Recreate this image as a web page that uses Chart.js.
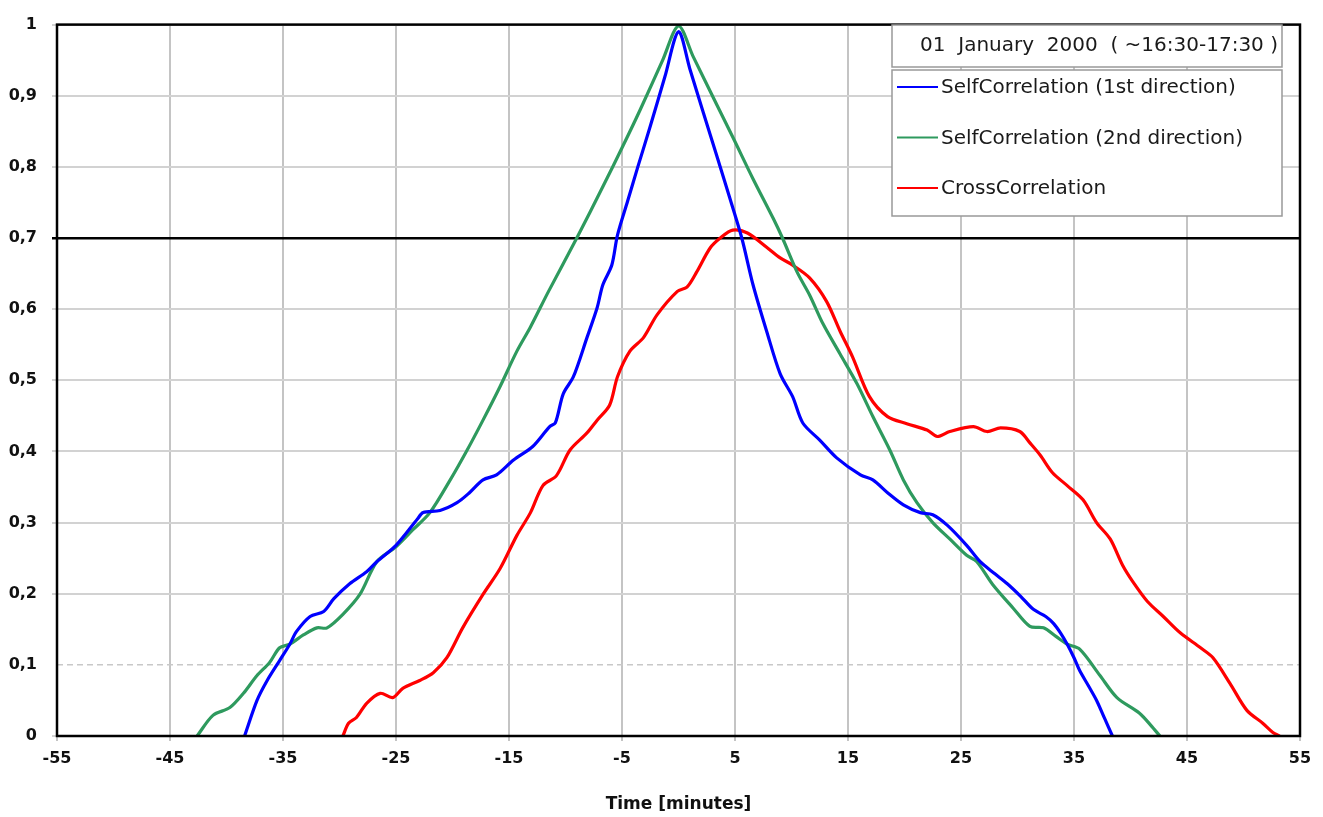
<!DOCTYPE html>
<html>
<head>
<meta charset="utf-8">
<script src="https://cdn.jsdelivr.net/npm/chart.js@4.4.0/dist/chart.umd.min.js"></script>
<style>
  body { margin: 0; background: #fff; }
  #wrap { width: 1323px; height: 817px; }
</style>
</head>
<body>
<div id="wrap"><canvas id="grafica_correlacion" width="1323" height="817"></canvas></div>
<script>
// ticks and reference lines
const xTicks = [-55, -45, -35, -25, -15, -5, 5, 15, 25, 35, 45, 55];
const yTicks = [0, 0.1, 0.2, 0.3, 0.4, 0.5, 0.6, 0.7, 0.8, 0.9, 1];
const thresholdLine = 0.7;
const dashedLine = 0.1;

const legendTitle = '01  January  2000  ( ~16:30-17:30 )';
const seriesLabels = ['SelfCorrelation (1st direction)', 'SelfCorrelation (2nd direction)', 'CrossCorrelation'];
const seriesColors = ['#0000ff', '#2e9a5e', '#ff0000'];

// SelfCorrelation (1st direction)
const self1X = [-38.4, -37.3, -36.4, -35.3, -34.4, -33.8, -32.6, -31.4, -30.5, -29.1, -27.6, -26.7, -25.0, -23.1, -22.6,
  -21.1, -19.6, -18.5, -17.3, -16.1, -14.6, -12.9, -11.4, -10.9, -10.2, -9.3, -8.1, -7.2, -6.7, -5.9, -5.4, -4.5, -3.6,
  -2.5, -1.2, 0, 1.0, 2.2, 3.4, 4.6, 5.6, 6.6, 7.8, 9.0, 10.1, 11.0, 12.5, 14.0, 16.1, 17.2, 18.5, 19.9, 21.4, 22.5, 23.8,
  25.5, 26.7, 28.0, 29.1, 30.3, 31.4, 32.5, 33.2, 33.8, 34.4, 35.0, 35.5, 36.3, 37.0, 37.7, 38.4];
const self1Y = [0, 0.05, 0.078, 0.106, 0.129, 0.147, 0.168, 0.175, 0.193, 0.214, 0.231, 0.245, 0.268, 0.305, 0.314,
  0.317, 0.328, 0.342, 0.36, 0.367, 0.388, 0.407, 0.435, 0.44, 0.481, 0.505, 0.56, 0.602, 0.634, 0.662, 0.704, 0.752, 0.80,
  0.857, 0.927, 0.99, 0.938, 0.876, 0.815, 0.753, 0.70, 0.634, 0.569, 0.509, 0.477, 0.44, 0.416, 0.391, 0.367, 0.36, 0.342, 0.325, 0.314, 0.311, 0.296,
  0.268, 0.245, 0.228, 0.214, 0.196, 0.178, 0.168, 0.158, 0.145, 0.129, 0.11, 0.092, 0.07, 0.05, 0.025, 0];

// SelfCorrelation (2nd direction)
const self2X = [-42.6, -41.2, -39.7, -38.5, -37.3, -36.2, -35.3, -34.4, -33.2, -32.0, -31.1, -29.7, -28.2, -26.7, -25.0,
  -23.5, -22.0, -20.2, -18.7, -17.3, -15.8, -14.3, -13.1, -11.5, -9.0, -6.7, -4.9, -3.4, -1.4, 0, 1.3, 3.4, 4.8, 6.6, 8.4,
  9.2, 10.5, 11.6, 12.8, 14.3, 15.8, 17.2, 18.7, 19.9, 21.1, 22.5, 24.0, 25.5, 26.4, 27.8, 29.6, 31.1, 32.3, 33.4, 34.4,
  35.5, 37.3, 38.8, 40.8, 41.8, 42.6];
const self2Y = [0, 0.029, 0.04, 0.06, 0.085, 0.103, 0.124, 0.129, 0.142, 0.152, 0.152, 0.171, 0.199, 0.245, 0.266,
  0.29, 0.314, 0.36, 0.402, 0.444, 0.491, 0.541, 0.575, 0.625, 0.70, 0.772, 0.83, 0.88, 0.95, 0.998, 0.955, 0.887, 0.842, 0.783, 0.727,
  0.70, 0.652, 0.62, 0.579, 0.537, 0.495, 0.449, 0.402, 0.36, 0.328, 0.30, 0.277, 0.254, 0.245, 0.213, 0.18, 0.154, 0.152, 0.14, 0.129,
  0.122, 0.085, 0.054, 0.032, 0.015, 0];

// CrossCorrelation
const crossX = [-29.7, -29.2, -28.5, -27.6, -26.4, -25.3, -24.4, -22.9, -21.7, -20.5, -19.1, -17.3, -15.8, -14.3, -13.1,
  -12.0, -10.8, -9.6, -8.1, -7.2, -6.1, -5.4, -4.3, -3.1, -1.9, -0.1, 0.75, 1.6, 2.8, 3.7, 4.8, 6.1, 7.8, 9.0, 10.1, 11.6,
  13.1, 14.3, 15.4, 16.9, 18.5, 20.2, 22.0, 22.9, 24.0, 26.1, 27.3, 28.5, 30.2, 31.1, 32.0, 33.1, 34.4, 35.8, 37.0, 38.2,
  39.3, 40.2, 41.5, 42.9, 44.4, 46.2, 47.3, 48.8, 50.3, 51.7, 52.6, 53.2];
const crossY = [0, 0.018, 0.026, 0.046, 0.06, 0.054, 0.067, 0.078, 0.089, 0.11, 0.152, 0.199, 0.235, 0.282, 0.314,
  0.352, 0.366, 0.402, 0.426, 0.444, 0.465, 0.505, 0.541, 0.56, 0.592, 0.625, 0.631, 0.652, 0.686, 0.70, 0.711, 0.707, 0.687, 0.672, 0.662, 0.644,
  0.611, 0.569, 0.533, 0.477, 0.449, 0.439, 0.43, 0.421, 0.428, 0.435, 0.428, 0.433, 0.428, 0.412, 0.395, 0.37, 0.352, 0.332, 0.30, 0.277,
  0.24, 0.217, 0.189, 0.168, 0.145, 0.124, 0.11, 0.074, 0.036, 0.018, 0.005, 0];

const toPoints = (xs, ys) => xs.map((x, i) => ({ x: x, y: ys[i] }));

const tickFont = { family: 'DejaVu Sans', size: 16, weight: 'bold' };

// outer frame and dashed 0,1 line
const framePlugin = {
  id: 'frame',
  beforeDatasetsDraw(chart) {
    const { ctx, chartArea: a, scales } = chart;
    const y = scales.y.getPixelForValue(dashedLine);
    ctx.save();
    ctx.strokeStyle = '#c8c8c8';
    ctx.lineWidth = 1.5;
    ctx.setLineDash([6, 4]);
    ctx.beginPath();
    ctx.moveTo(a.left, y);
    ctx.lineTo(a.right, y);
    ctx.stroke();
    ctx.restore();
  },
  afterDatasetsDraw(chart) {
    const { ctx, chartArea: a } = chart;
    ctx.save();
    ctx.strokeStyle = '#000';
    ctx.lineWidth = 2.5;
    ctx.strokeRect(a.left, a.top, a.right - a.left, a.bottom - a.top);
    ctx.restore();
  }
};

// legend boxes inside the plot, top right
const legendPlugin = {
  id: 'boxLegend',
  afterDraw(chart) {
    const ctx = chart.ctx;
    ctx.save();
    ctx.fillStyle = '#fff';
    ctx.strokeStyle = '#999';
    ctx.lineWidth = 1.5;
    ctx.fillRect(892, 25, 390, 42);
    ctx.strokeRect(892, 25, 390, 42);
    ctx.fillRect(892, 70, 390, 146);
    ctx.strokeRect(892, 70, 390, 146);

    ctx.fillStyle = '#1a1a1a';
    ctx.font = '20px "DejaVu Sans"';
    ctx.textBaseline = 'middle';
    ctx.textAlign = 'right';
    ctx.fillText(legendTitle, 1278, 46);

    ctx.textAlign = 'left';
    chart.data.datasets.forEach((ds, i) => {
      const y = 87 + i * 50.5;
      ctx.strokeStyle = ds.borderColor;
      ctx.lineWidth = 2;
      ctx.beginPath();
      ctx.moveTo(897, y);
      ctx.lineTo(938, y);
      ctx.stroke();
      ctx.fillText(ds.label, 941, y + 1);
    });
    ctx.restore();
  }
};

const ctx = document.getElementById('grafica_correlacion').getContext('2d');
new Chart(ctx, {
  type: 'line',
  data: {
    datasets: [
      { label: seriesLabels[0], data: toPoints(self1X, self1Y), borderColor: seriesColors[0] },
      { label: seriesLabels[1], data: toPoints(self2X, self2Y), borderColor: seriesColors[1] },
      { label: seriesLabels[2], data: toPoints(crossX, crossY), borderColor: seriesColors[2] }
    ]
  },
  options: {
    responsive: false,
    animation: false,
    devicePixelRatio: 1,
    layout: { padding: { top: 17, right: 23, left: 0, bottom: 0 } },
    elements: {
      line: { borderWidth: 3.2, tension: 0.3, fill: false },
      point: { radius: 0 }
    },
    plugins: {
      legend: { display: false },
      tooltip: { enabled: false }
    },
    scales: {
      x: {
        type: 'linear',
        min: -55,
        max: 55,
        afterBuildTicks: s => { s.ticks = xTicks.map(v => ({ value: v })); },
        afterFit: s => { s.height = 81; },
        border: { display: false },
        grid: { color: '#c4c4c4', lineWidth: 2, tickLength: 5 },
        ticks: { font: tickFont, color: '#111', padding: 8, maxRotation: 0, autoSkip: false },
        title: {
          display: true,
          text: 'Time [minutes]',
          color: '#111',
          font: { family: 'DejaVu Sans', size: 17, weight: 'bold' },
          padding: { top: 0, bottom: 2 }
        }
      },
      y: {
        min: 0,
        max: 1,
        afterBuildTicks: s => { s.ticks = yTicks.map(v => ({ value: v })); },
        afterFit: s => { s.width = 57; },
        border: { display: false },
        grid: {
          color: c => c.tick.value === thresholdLine ? '#000' : (c.tick.value === dashedLine ? 'rgba(0,0,0,0)' : '#d2d2d2'),
          lineWidth: c => c.tick.value === thresholdLine ? 2.5 : 2,
          tickLength: 5
        },
        ticks: {
          font: tickFont,
          color: '#111',
          padding: 15,
          callback: v => String(Math.round(v * 10) / 10).replace('.', ',')
        }
      }
    }
  },
  plugins: [framePlugin, legendPlugin]
});
</script>
</body>
</html>
